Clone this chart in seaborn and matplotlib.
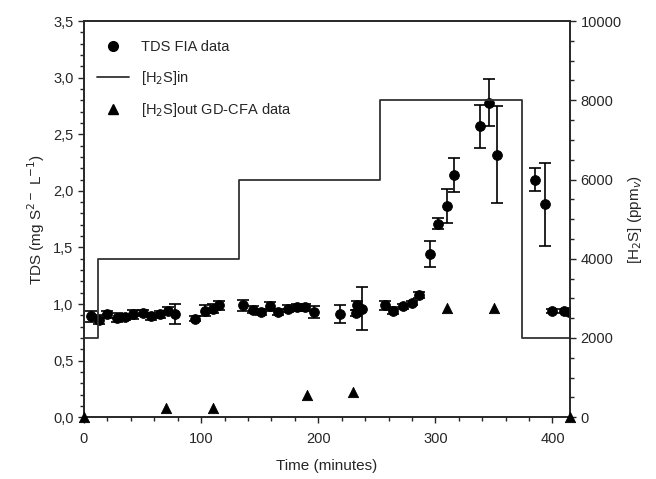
import numpy as np
import pandas as pd
import matplotlib
matplotlib.use('Agg')
import matplotlib.pyplot as plt
from matplotlib.ticker import MultipleLocator, FuncFormatter
from matplotlib.lines import Line2D
import seaborn as sns

# TDS FIA data (time in minutes, mg S2-/L, error)
tds_time = [5.7, 12.8, 20, 28, 35, 42, 50, 57, 65, 72, 78, 95, 103, 110, 115,
            136, 144, 151, 159, 166, 174, 182, 189, 196, 219, 232, 233, 237,
            257, 264, 272, 280, 286, 295, 302, 310, 316, 338, 346, 353, 385,
            394, 400, 410, 414]
tds_value = [0.89, 0.86, 0.91, 0.88, 0.885, 0.91, 0.92, 0.89, 0.91, 0.94, 0.91,
             0.87, 0.94, 0.96, 0.99, 0.99, 0.95, 0.93, 0.98, 0.93, 0.96, 0.97,
             0.97, 0.93, 0.91, 0.92, 0.99, 0.96, 0.99, 0.94, 0.98, 1.01, 1.08,
             1.44, 1.71, 1.87, 2.14, 2.57, 2.78, 2.32, 2.10, 1.88, 0.94, 0.94,
             0.93]
tds_err = [0.05, 0.04, 0.03, 0.04, 0.03, 0.04, 0.03, 0.03, 0.03, 0.03, 0.09,
           0.02, 0.05, 0.04, 0.04, 0.05, 0.03, 0.03, 0.04, 0.03, 0.03, 0.03,
           0.03, 0.05, 0.08, 0.03, 0.04, 0.19, 0.04, 0.03, 0.02, 0.02, 0.03,
           0.115, 0.05, 0.15, 0.15, 0.19, 0.21, 0.43, 0.10, 0.37, 0.02, 0.02,
           0.03]

# [H2S]in step profile (ppmv)
h2s_in_time = [0, 12, 132, 253, 374, 415]
h2s_in_ppm = [2000, 4000, 6000, 8000, 2000, 2000]

# [H2S]out GD-CFA data (ppmv)
h2s_out_time = [0, 70, 110, 190, 230, 310, 350, 415]
h2s_out_ppm = [0, 230, 230, 560, 640, 2750, 2750, 0]

tds = pd.DataFrame({'time': tds_time, 'tds': tds_value, 'err': tds_err})
h2s_in = pd.DataFrame({'time': h2s_in_time, 'ppm': h2s_in_ppm})
h2s_out = pd.DataFrame({'time': h2s_out_time, 'ppm': h2s_out_ppm})

sns.set_style('ticks')
plt.rcParams['font.family'] = ['Liberation Sans', 'DejaVu Sans']
plt.rcParams['font.size'] = 10.5

fig, ax = plt.subplots(figsize=(6.56, 4.79), dpi=100)
fig.subplots_adjust(left=0.128, right=0.869, bottom=0.129, top=0.956)
ax2 = ax.twinx()

# H2S in (step line) and H2S out (triangles) on right axis
ax2.step(h2s_in['time'], h2s_in['ppm'], where='post', color='#333333', lw=1.3)
sns.scatterplot(data=h2s_out, x='time', y='ppm', ax=ax2, marker='^', s=55,
                color='black', edgecolor='black', clip_on=False, zorder=5)

# TDS points with error bars on left axis
ax.errorbar(tds['time'], tds['tds'], yerr=tds['err'], fmt='none',
            ecolor='black', elinewidth=1.2, capsize=4.5, capthick=1.2, zorder=3)
sns.scatterplot(data=tds, x='time', y='tds', ax=ax, marker='o', s=50,
                color='black', edgecolor='black', zorder=4)

ax.set_xlim(0, 415)
ax.set_ylim(0, 3.5)
ax2.set_ylim(0, 10000)

ax.xaxis.set_major_locator(MultipleLocator(100))
ax.xaxis.set_minor_locator(MultipleLocator(20))
ax.yaxis.set_major_locator(MultipleLocator(0.5))
ax.yaxis.set_minor_locator(MultipleLocator(0.1))
ax.yaxis.set_major_formatter(FuncFormatter(lambda v, p: f'{v:.1f}'.replace('.', ',')))
ax2.yaxis.set_major_locator(MultipleLocator(2000))
ax2.yaxis.set_minor_locator(MultipleLocator(500))

for a in (ax, ax2):
    a.tick_params(which='major', length=4, width=1, labelsize=10.5)
    a.tick_params(which='minor', length=3, width=1)
    for s in a.spines.values():
        s.set_linewidth(1.2)
        s.set_visible(True)
ax.tick_params(axis='x', which='major', pad=7)

ax.set_xlabel('Time (minutes)', fontsize=11, labelpad=9)
ax.set_ylabel('TDS (mg S$^{2-}$ L$^{-1}$)', fontsize=11)
ax2.set_ylabel('[H$_2$S] (ppm$_v$)', fontsize=11, rotation=90, labelpad=3)

handles = [
    Line2D([], [], marker='o', color='black', linestyle='none', markersize=7),
    Line2D([], [], color='#333333', lw=1.3),
    Line2D([], [], marker='^', color='black', linestyle='none', markersize=7.5),
]
labels = ['TDS FIA data', '[H$_2$S]in', '[H$_2$S]out GD-CFA data']
ax2.legend(handles, labels, loc='upper left', bbox_to_anchor=(0.0, 0.985),
           frameon=False, fontsize=10.5, handlelength=2.2, labelspacing=1.0)

plt.savefig('out.png', dpi=100)
